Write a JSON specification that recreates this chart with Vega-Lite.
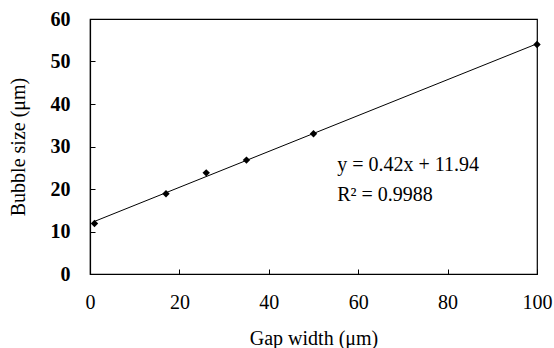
{
  "$schema": "https://vega.github.io/schema/vega-lite/v6.json",
  "width": 447,
  "height": 255,
  "autosize": "none",
  "padding": {"left": 90, "top": 19, "right": 17, "bottom": 74},
  "background": "white",
  "config": {
    "view": {"stroke": "black", "strokeWidth": 1.2},
    "font": "Liberation Serif"
  },
  "data": {
    "values": [
      {"gap": 1, "bubble": 11.9},
      {"gap": 17, "bubble": 18.9},
      {"gap": 26, "bubble": 23.8},
      {"gap": 35, "bubble": 26.8},
      {"gap": 50, "bubble": 33.0},
      {"gap": 100, "bubble": 54.0}
    ]
  },
  "layer": [
    {
      "transform": [{"regression": "bubble", "on": "gap"}],
      "mark": {"type": "line", "color": "black", "strokeWidth": 1},
      "encoding": {
        "x": {"field": "gap", "type": "quantitative"},
        "y": {"field": "bubble", "type": "quantitative"}
      }
    },
    {
      "mark": {"type": "point", "shape": "diamond", "filled": true, "color": "black", "opacity": 1, "size": 55},
      "encoding": {
        "x": {
          "field": "gap", "type": "quantitative",
          "scale": {"domain": [0, 100], "nice": false},
          "axis": {
            "title": "Gap width (\u03bcm)",
            "titleFont": "Liberation Serif", "titleFontSize": 20, "titleFontWeight": "normal", "titleColor": "black",
            "titlePadding": 16,
            "values": [0, 20, 40, 60, 80, 100],
            "labelFont": "Liberation Serif", "labelFontSize": 20, "labelColor": "black",
            "labelPadding": 23,
            "tickSize": -5, "tickColor": "black", "domainColor": "black", "domainWidth": 1.2,
            "grid": false, "labelFlush": false
          }
        },
        "y": {
          "field": "bubble", "type": "quantitative",
          "scale": {"domain": [0, 60], "nice": false},
          "axis": {
            "title": "Bubble size (\u03bcm)",
            "titleFont": "Liberation Serif", "titleFontSize": 20, "titleFontWeight": "normal", "titleColor": "black",
            "titlePadding": 22,
            "values": [0, 10, 20, 30, 40, 50, 60],
            "labelFont": "Liberation Serif", "labelFontSize": 20, "labelFontWeight": "bold", "labelColor": "black",
            "labelPadding": 25,
            "tickSize": -5, "tickColor": "black", "domainColor": "black", "domainWidth": 1.2,
            "grid": false, "labelFlush": false
          }
        }
      }
    },
    {
      "data": {"values": [{"label": "y = 0.42x + 11.94", "tx": 55.3, "ty": 25.6}, {"label": "R\u00b2 = 0.9988", "tx": 55.3, "ty": 18.6}]},
      "mark": {"type": "text", "align": "left", "baseline": "middle", "font": "Liberation Serif", "fontSize": 20, "color": "black"},
      "encoding": {
        "x": {"field": "tx", "type": "quantitative"},
        "y": {"field": "ty", "type": "quantitative"},
        "text": {"field": "label"}
      }
    }
  ]
}
